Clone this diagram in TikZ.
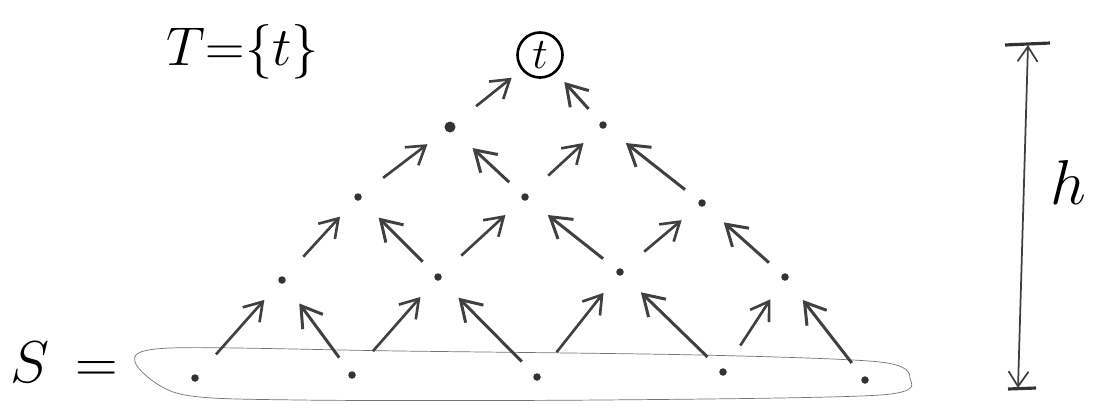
\documentclass[tikz,border=0pt]{standalone}
\usepackage{amsmath,amssymb}
\usepackage{tikz}
\usetikzlibrary{arrows.meta}
\tikzset{
    dot/.style={circle,fill=black!80,minimum size=1.5mm,inner sep=0pt},
    target/.style={circle,draw,line width=1.5pt,minimum size=9mm,inner sep=0pt,font=\fontsize{24.88}{26}\selectfont},
    bigtext/.style={inner sep=0pt,font=\fontsize{24.88}{26}\selectfont},
    rlink/.style={-{Straight Barb[length=3.5mm,width=4.5mm]},line width=1.5pt,black!75,shorten <=5.5mm,shorten >=4.5mm},
    llink/.style={-{Straight Barb[length=4mm,width=5mm]},line width=1.7pt,black!75,shorten <=3.5mm,shorten >=5mm},
    region/.style={draw=black!55,thin},
    dim/.style={{Straight Barb[length=3mm,width=4mm]}-{Straight Barb[length=3mm,width=4mm]},line width=1pt,black!75}
}
\begin{document}
\begin{tikzpicture}[x=0.02cm,y=-0.02cm]
    \useasboundingbox (0,0) rectangle (1097,417);
    % labels
    \node[bigtext,scale=1.25] (tset) at (243,52) {$T{=}\{t\}$};
    \node[bigtext,scale=1.35] (sset) at (64,362) {$S\,=$};
    % the set S
    \draw[region] plot[smooth cycle] coordinates {(135,362) (170,348) (400,351) (700,355) (880,362) (910,378) (880,395) (600,400) (300,400) (180,394)};
    % bottom row
    \node[dot] (s1) at (195,378) {};
    \node[dot] (s2) at (352,375) {};
    \node[dot] (s3) at (537,377) {};
    \node[dot] (s4) at (723,372) {};
    \node[dot] (s5) at (865,380) {};
    % second row
    \node[dot] (a1) at (282,280) {};
    \node[dot] (a2) at (438,277) {};
    \node[dot] (a3) at (620,272) {};
    \node[dot] (a4) at (785,277) {};
    % third row
    \node[dot] (b1) at (358,197) {};
    \node[dot] (b2) at (525,197) {};
    \node[dot] (b3) at (702,203) {};
    % fourth row
    \node[dot,minimum size=2.2mm] (c1) at (450,127) {};
    \node[dot] (c2) at (603,125) {};
    \node[target] (t) at (540,55) {$t$};
    % links
    \draw[rlink] (s1) -- (a1);
    \draw[rlink] (s2) -- (a2);
    \draw[rlink] (s3) -- (a3);
    \draw[rlink] (s4) -- (a4);
    \draw[llink] (s2) -- (a1);
    \draw[llink] (s3) -- (a2);
    \draw[llink] (s4) -- (a3);
    \draw[llink] (s5) -- (a4);
    \draw[rlink] (a1) -- (b1);
    \draw[rlink] (a2) -- (b2);
    \draw[rlink] (a3) -- (b3);
    \draw[llink] (a2) -- (b1);
    \draw[llink] (a3) -- (b2);
    \draw[llink] (a4) -- (b3);
    \draw[rlink] (b1) -- (c1);
    \draw[rlink] (b2) -- (c2);
    \draw[llink] (b2) -- (c1);
    \draw[llink] (b3) -- (c2);
    \draw[rlink,shorten >=2.5mm] (c1) -- (t);
    \draw[llink,shorten >=2.5mm] (c2) -- (t);
    % height
    \coordinate (htop) at (1028,45);
    \coordinate (hbot) at (1018,388);
    \draw[line width=1.8pt,black!80] (1005,45) -- (1050,43);
    \draw[line width=1.8pt,black!80] (1008,389) -- (1036,388);
    \draw[dim] (htop) -- (hbot);
    \node[bigtext,scale=1.45] (hlab) at (1068,182) {$h$};
\end{tikzpicture}
\end{document}
